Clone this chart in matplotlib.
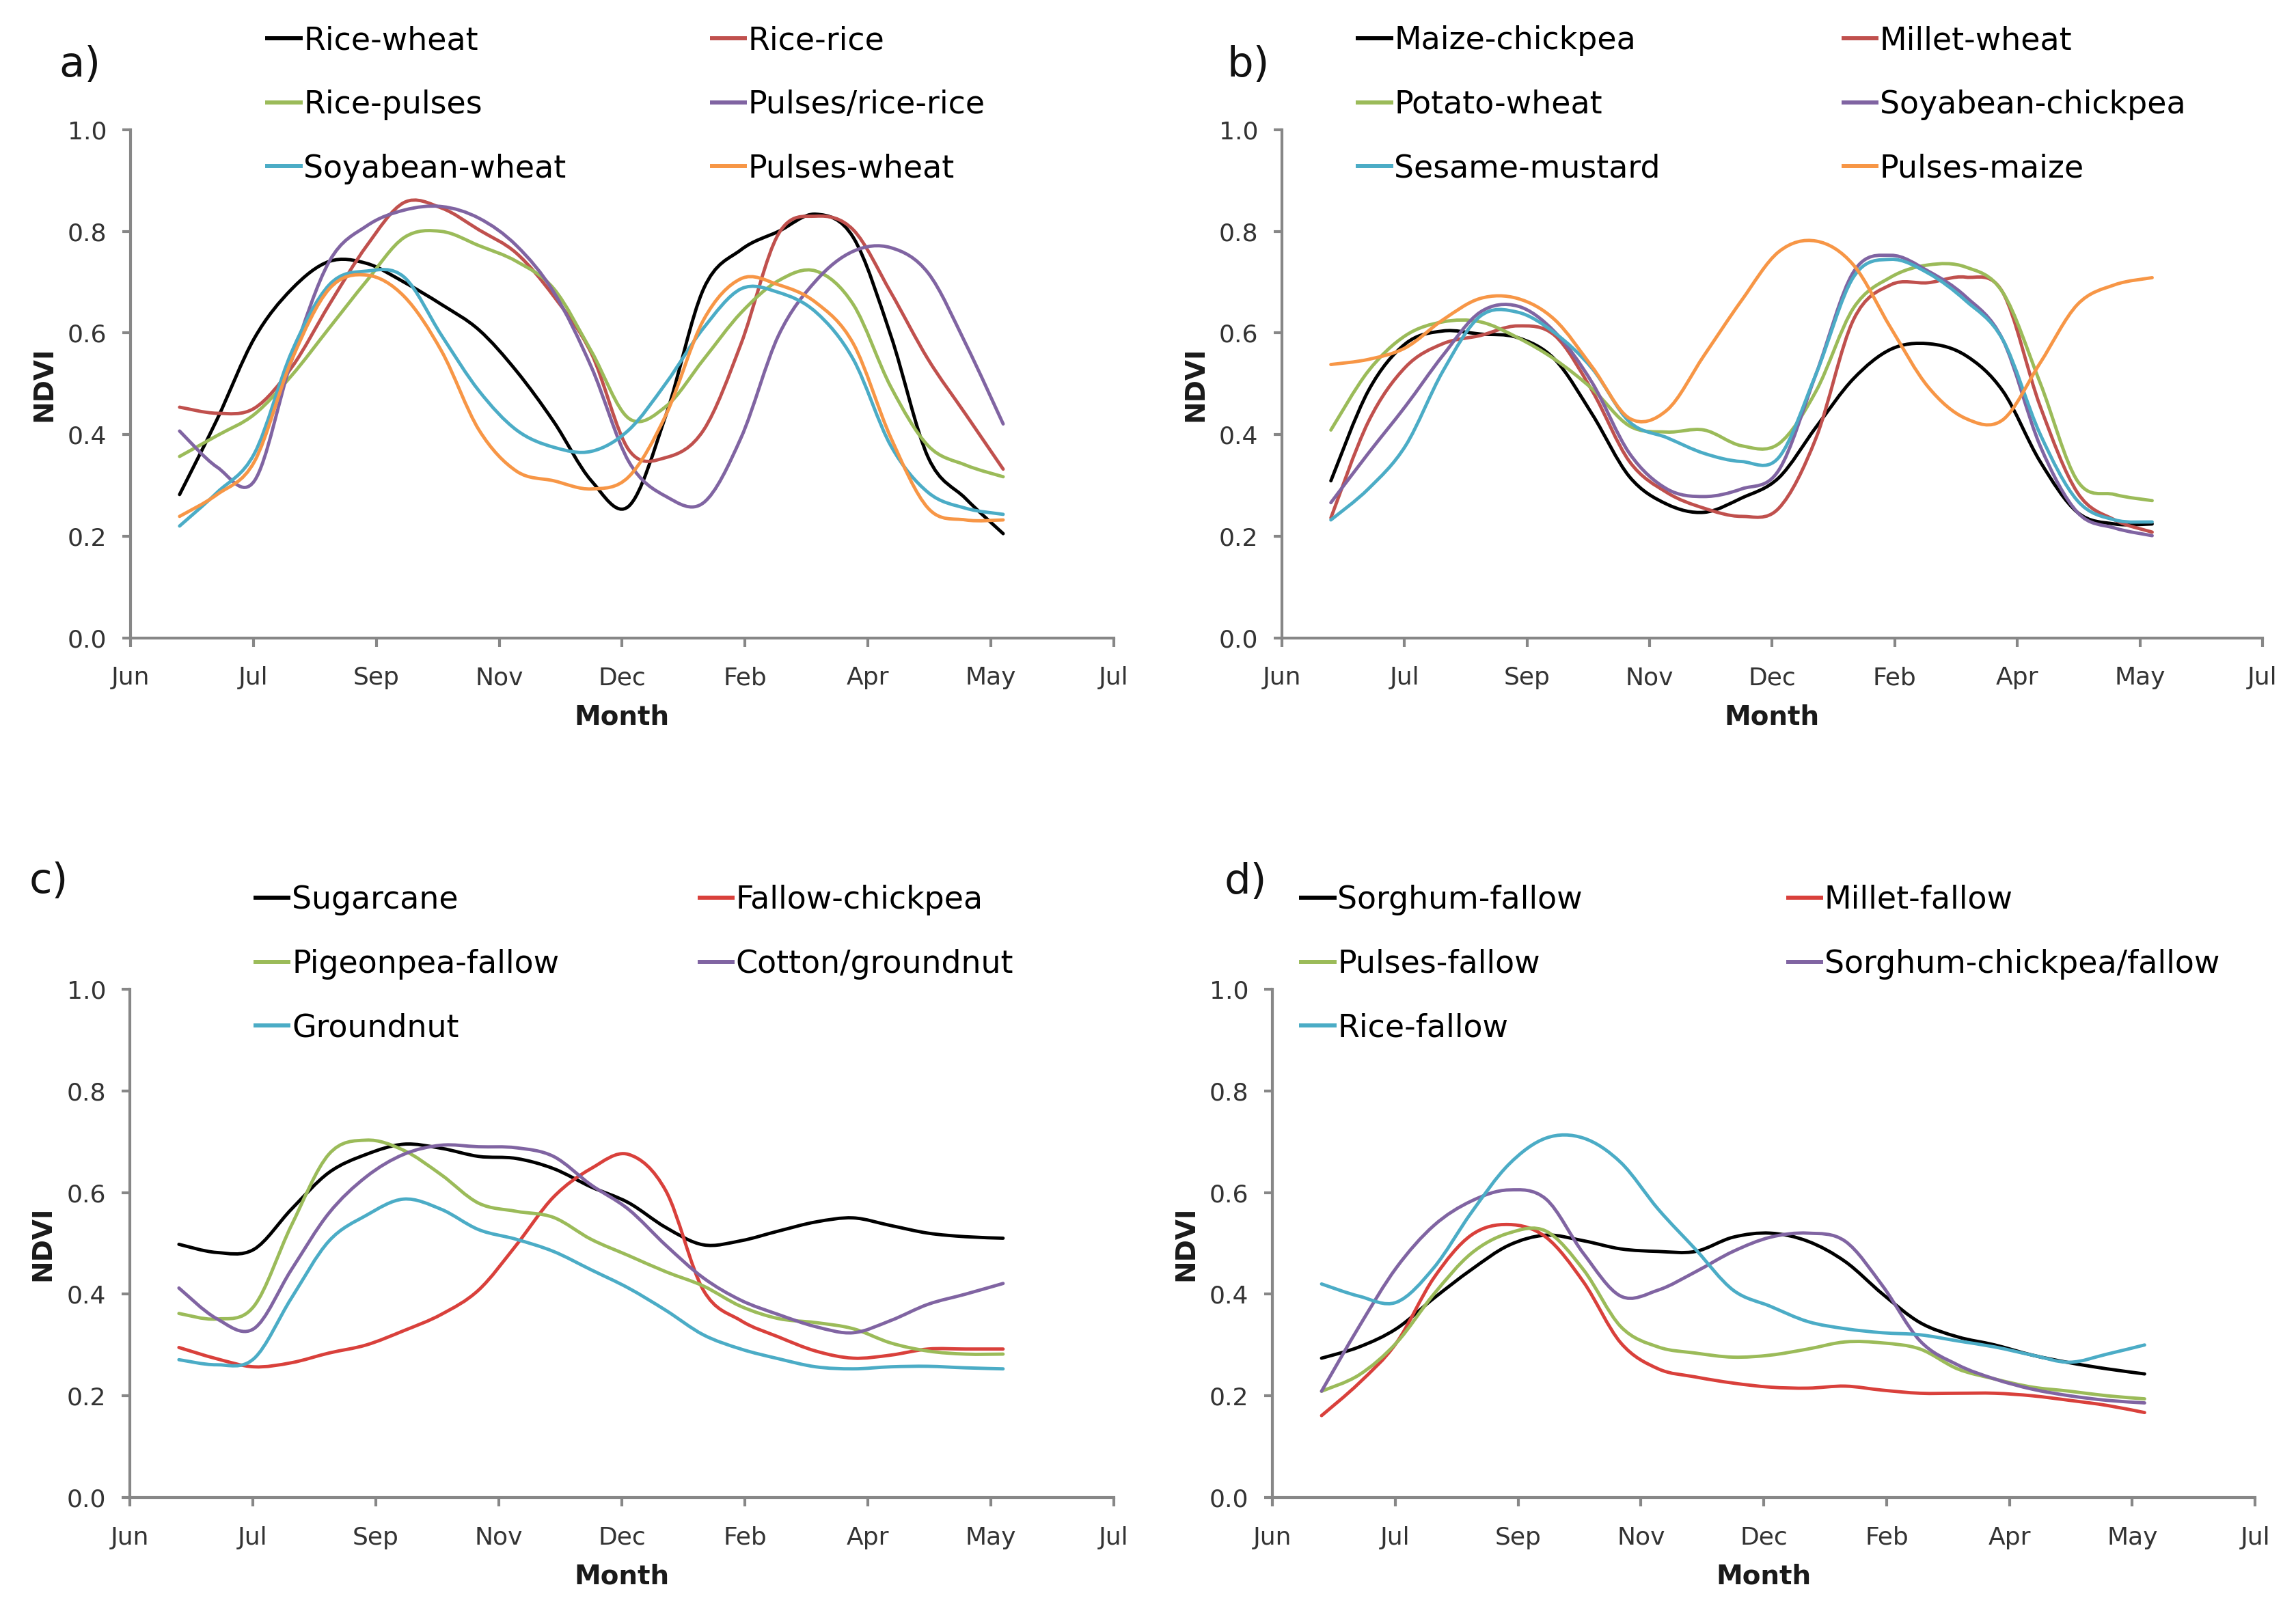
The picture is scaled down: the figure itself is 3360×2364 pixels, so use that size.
import numpy as np
import matplotlib.pyplot as plt
from matplotlib.path import Path
from matplotlib.patches import PathPatch
from matplotlib.lines import Line2D

plt.rcParams['font.family'] = ['DejaVu Sans']

months = ['Jun', 'Jul', 'Sep', 'Nov', 'Dec', 'Feb', 'Apr', 'May', 'Jul']
# composite dates, in units of the month tick spacing
t = [0.40, 0.705, 1.009, 1.314, 1.618, 1.923, 2.227, 2.532, 2.836, 3.141, 3.445, 3.75,
     4.054, 4.359, 4.663, 4.968, 5.272, 5.577, 5.881, 6.186, 6.49, 6.795, 7.10]

# a)
rice_wheat = [0.282, 0.43, 0.59, 0.687, 0.741, 0.737, 0.70, 0.656, 0.606, 0.525, 0.425, 0.309,
              0.259, 0.44, 0.687, 0.764, 0.80, 0.834, 0.788, 0.595, 0.355, 0.274, 0.205]
rice_rice = [0.454, 0.442, 0.452, 0.533, 0.656, 0.772, 0.857, 0.846, 0.803, 0.757, 0.672, 0.56,
             0.37, 0.355, 0.409, 0.579, 0.795, 0.83, 0.803, 0.68, 0.548, 0.44, 0.332]
rice_pulses = [0.357, 0.398, 0.44, 0.517, 0.61, 0.703, 0.788, 0.80, 0.772, 0.741, 0.687, 0.564,
               0.432, 0.456, 0.548, 0.64, 0.703, 0.722, 0.656, 0.494, 0.378, 0.34, 0.317]
pulses_rice_rice = [0.407, 0.336, 0.309, 0.548, 0.741, 0.811, 0.842, 0.849, 0.826, 0.772, 0.68, 0.533,
                    0.347, 0.278, 0.266, 0.394, 0.595, 0.703, 0.761, 0.768, 0.718, 0.579, 0.421]
soyabean_wheat = [0.22, 0.286, 0.363, 0.564, 0.695, 0.722, 0.71, 0.595, 0.486, 0.409, 0.375, 0.367,
                  0.409, 0.502, 0.61, 0.687, 0.68, 0.641, 0.548, 0.378, 0.286, 0.255, 0.243]
pulses_wheat = [0.239, 0.282, 0.347, 0.548, 0.687, 0.714, 0.672, 0.564, 0.409, 0.328, 0.309, 0.293,
                0.317, 0.44, 0.626, 0.707, 0.695, 0.66, 0.579, 0.394, 0.255, 0.232, 0.232]

# b)
maize_chickpea = [0.309, 0.486, 0.579, 0.604, 0.598, 0.591, 0.548, 0.44, 0.317, 0.263, 0.247, 0.275,
                  0.315, 0.415, 0.51, 0.568, 0.579, 0.556, 0.486, 0.347, 0.247, 0.224, 0.224]
millet_wheat = [0.236, 0.425, 0.533, 0.579, 0.595, 0.614, 0.595, 0.486, 0.347, 0.286, 0.255, 0.239,
                0.255, 0.394, 0.626, 0.695, 0.699, 0.71, 0.68, 0.456, 0.286, 0.232, 0.208]
potato_wheat = [0.409, 0.525, 0.595, 0.622, 0.622, 0.591, 0.548, 0.49, 0.417, 0.405, 0.409, 0.378,
                0.382, 0.486, 0.649, 0.71, 0.734, 0.73, 0.68, 0.502, 0.309, 0.282, 0.27]
soyabean_chickpea = [0.266, 0.363, 0.456, 0.556, 0.641, 0.653, 0.602, 0.502, 0.363, 0.293, 0.278, 0.293,
                     0.33, 0.52, 0.72, 0.753, 0.722, 0.672, 0.587, 0.378, 0.247, 0.216, 0.201]
sesame_mustard = [0.232, 0.293, 0.378, 0.525, 0.633, 0.641, 0.60, 0.53, 0.425, 0.394, 0.363, 0.347,
                  0.355, 0.52, 0.71, 0.745, 0.718, 0.664, 0.587, 0.401, 0.27, 0.232, 0.228]
pulses_maize = [0.538, 0.548, 0.571, 0.626, 0.668, 0.668, 0.626, 0.533, 0.432, 0.448, 0.556, 0.664,
                0.76, 0.781, 0.734, 0.61, 0.494, 0.432, 0.429, 0.541, 0.656, 0.695, 0.709]

# c)
sugarcane = [0.498, 0.482, 0.488, 0.567, 0.639, 0.675, 0.695, 0.687, 0.671, 0.667, 0.647, 0.611,
             0.58, 0.531, 0.497, 0.505, 0.524, 0.542, 0.55, 0.535, 0.52, 0.513, 0.51]
fallow_chickpea = [0.295, 0.273, 0.257, 0.265, 0.284, 0.30, 0.328, 0.36, 0.408, 0.496, 0.591, 0.647,
                   0.675, 0.603, 0.408, 0.348, 0.316, 0.288, 0.274, 0.28, 0.292, 0.292, 0.292]
pigeonpea_fallow = [0.362, 0.351, 0.376, 0.535, 0.675, 0.703, 0.683, 0.635, 0.579, 0.563, 0.551, 0.508,
                    0.476, 0.444, 0.416, 0.376, 0.352, 0.344, 0.332, 0.304, 0.288, 0.282, 0.282]
cotton_groundnut = [0.412, 0.352, 0.332, 0.448, 0.559, 0.631, 0.675, 0.693, 0.69, 0.688, 0.671, 0.615,
                    0.567, 0.496, 0.432, 0.388, 0.36, 0.336, 0.324, 0.348, 0.38, 0.40, 0.421]
groundnut = [0.271, 0.261, 0.273, 0.392, 0.504, 0.555, 0.587, 0.567, 0.527, 0.508, 0.484, 0.448,
             0.412, 0.368, 0.32, 0.292, 0.273, 0.257, 0.253, 0.257, 0.258, 0.255, 0.253]

# d)
sorghum_fallow = [0.274, 0.296, 0.332, 0.392, 0.448, 0.496, 0.516, 0.505, 0.489, 0.484, 0.484, 0.512,
                  0.52, 0.504, 0.464, 0.40, 0.344, 0.316, 0.30, 0.28, 0.265, 0.253, 0.243]
millet_fallow = [0.161, 0.225, 0.304, 0.432, 0.516, 0.537, 0.512, 0.424, 0.304, 0.253, 0.237, 0.225,
                 0.217, 0.215, 0.219, 0.211, 0.205, 0.205, 0.205, 0.20, 0.191, 0.181, 0.167]
pulses_fallow = [0.209, 0.241, 0.304, 0.40, 0.48, 0.52, 0.524, 0.448, 0.336, 0.296, 0.284, 0.276,
                 0.28, 0.292, 0.306, 0.304, 0.292, 0.253, 0.233, 0.217, 0.209, 0.20, 0.194]
sorghum_chickpea_fallow = [0.209, 0.336, 0.452, 0.535, 0.583, 0.605, 0.587, 0.48, 0.396, 0.408, 0.444, 0.484,
                           0.512, 0.52, 0.504, 0.416, 0.308, 0.261, 0.233, 0.213, 0.20, 0.191, 0.186]
rice_fallow = [0.42, 0.396, 0.384, 0.452, 0.56, 0.655, 0.707, 0.707, 0.659, 0.567, 0.488, 0.408,
               0.376, 0.346, 0.332, 0.324, 0.32, 0.308, 0.296, 0.28, 0.266, 0.282, 0.30]

black = '#000000'
red = '#C0504D'
red2 = '#D9403B'
green = '#9BBB59'
purple = '#8064A2'
cyan = '#4BACC6'
orange = '#F79646'

panels = [
    ('a)', [('Rice-wheat', rice_wheat, black), ('Rice-rice', rice_rice, red),
            ('Rice-pulses', rice_pulses, green), ('Pulses/rice-rice', pulses_rice_rice, purple),
            ('Soyabean-wheat', soyabean_wheat, cyan), ('Pulses-wheat', pulses_wheat, orange)]),
    ('b)', [('Maize-chickpea', maize_chickpea, black), ('Millet-wheat', millet_wheat, red),
            ('Potato-wheat', potato_wheat, green), ('Soyabean-chickpea', soyabean_chickpea, purple),
            ('Sesame-mustard', sesame_mustard, cyan), ('Pulses-maize', pulses_maize, orange)]),
    ('c)', [('Sugarcane', sugarcane, black), ('Fallow-chickpea', fallow_chickpea, red2),
            ('Pigeonpea-fallow', pigeonpea_fallow, green), ('Cotton/groundnut', cotton_groundnut, purple),
            ('Groundnut', groundnut, cyan)]),
    ('d)', [('Sorghum-fallow', sorghum_fallow, black), ('Millet-fallow', millet_fallow, red2),
            ('Pulses-fallow', pulses_fallow, green), ('Sorghum-chickpea/fallow', sorghum_chickpea_fallow, purple),
            ('Rice-fallow', rice_fallow, cyan)]),
]

# axes rectangles and legend / label anchors (figure fractions)
rects = [[0.0568, 0.6051, 0.4283, 0.3145], [0.5583, 0.6051, 0.4271, 0.3145],
         [0.0565, 0.0728, 0.4286, 0.3147], [0.5542, 0.0728, 0.4280, 0.3147]]
leg_x = [(0.1165, 0.3101), (0.5915, 0.8030), (0.1114, 0.3048), (0.5668, 0.7789)]
leg_y = [0.9842, 0.9842, 0.4522, 0.4522]
lab_pos = [(0.0256, 0.9594), (0.5345, 0.9594), (0.0128, 0.4539), (0.5333, 0.4535)]


def smooth_path(x, y):
    # Excel style smoothed line: Catmull-Rom through the points as cubic Bezier pieces
    pts = np.column_stack([x, y])
    p = np.vstack([pts[0], pts, pts[-1]])
    verts = [pts[0]]
    codes = [Path.MOVETO]
    for i in range(1, len(p) - 2):
        c1 = p[i] + (p[i + 1] - p[i - 1]) / 6
        c2 = p[i + 1] - (p[i + 2] - p[i]) / 6
        verts += [c1, c2, p[i + 1]]
        codes += [Path.CURVE4] * 3
    return Path(verts, codes)


fig = plt.figure(figsize=(16.8, 11.82), dpi=200)
axcol = '#878787'
lw = 1.75

for n, (tag, series) in enumerate(panels):
    ax = fig.add_axes(rects[n])
    handles = []
    for name, vals, col in series:
        ax.add_patch(PathPatch(smooth_path(t, vals), fill=False, edgecolor=col, lw=lw,
                               capstyle='round', joinstyle='round'))
        handles.append(Line2D([0], [0], color=col, lw=lw + 0.4))
    names = [s[0] for s in series]

    ax.set_xlim(0, 8)
    ax.set_ylim(0, 1)
    ax.set_xticks(range(9))
    ax.set_xticklabels(months)
    ax.set_yticks(np.arange(0, 1.01, 0.2))
    ax.set_yticklabels(['%.1f' % v for v in np.arange(0, 1.01, 0.2)])
    for s in ['top', 'right']:
        ax.spines[s].set_visible(False)
    for s in ['left', 'bottom']:
        ax.spines[s].set_color(axcol)
        ax.spines[s].set_linewidth(1.5)
    ax.tick_params(axis='both', colors=axcol, width=1.5, length=4.5, labelsize=13,
                   labelcolor='#333333')
    ax.tick_params(axis='x', pad=10.5)
    ax.tick_params(axis='y', pad=8)
    ax.set_xlabel('Month', fontsize=14, fontweight='bold', color='#1a1a1a')
    ax.xaxis.set_label_coords(0.5, -0.13)
    ax.set_ylabel('NDVI', fontsize=14, fontweight='bold', color='#1a1a1a')
    ax.yaxis.set_label_coords(-0.075, 0.5)

    # legend laid out in two columns like the original
    leg_kw = dict(loc='upper left', bbox_transform=fig.transFigure, frameon=False,
                  handlelength=1.05, handletextpad=0.1, labelspacing=1.06,
                  borderpad=0, borderaxespad=0, fontsize=16.5)
    leg1 = ax.legend(handles[0::2], names[0::2], bbox_to_anchor=(leg_x[n][0], leg_y[n]), **leg_kw)
    ax.add_artist(leg1)
    ax.legend(handles[1::2], names[1::2], bbox_to_anchor=(leg_x[n][1], leg_y[n]), **leg_kw)

    fig.text(lab_pos[n][0], lab_pos[n][1], tag, fontsize=22, ha='left', va='center', color='#111111')

fig.savefig('out.png', dpi=200)
